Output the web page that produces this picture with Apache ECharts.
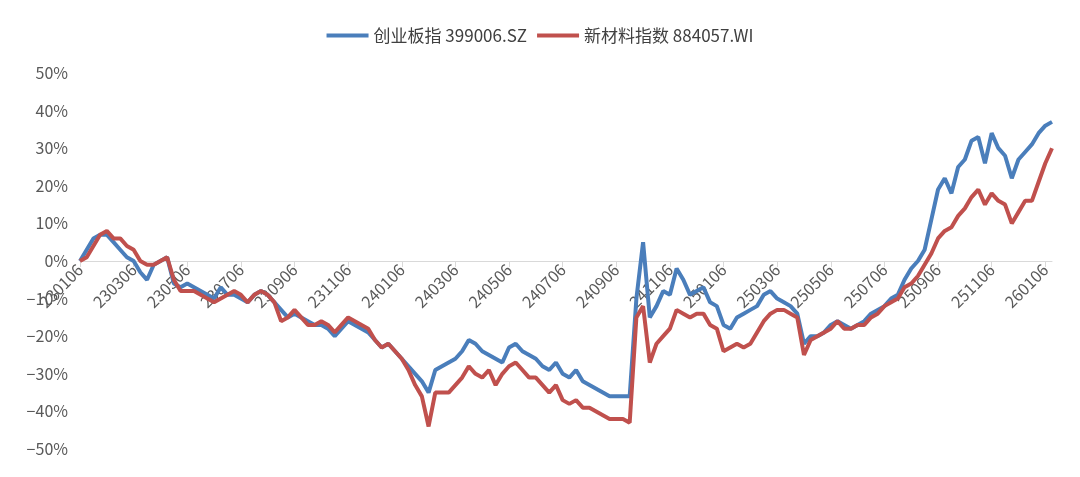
<!DOCTYPE html>
<html lang="zh">
<head>
  <meta charset="UTF-8">
  <title>创业板指 vs 新材料指数</title>
  <script src="https://cdn.jsdelivr.net/npm/echarts@6/dist/echarts.min.js"></script>
  <style>body{margin:0;background:#fff}#main{width:1080px;height:477px}</style>
</head>
<body>
  <div id="main"></div>
  <script type="text/javascript">
    // 周度数据，每月4个点（06/13/21/28）
    var months = ['2301','2302','2303','2304','2305','2306','2307','2308','2309','2310','2311','2312',
      '2401','2402','2403','2404','2405','2406','2407','2408','2409','2410','2411','2412',
      '2501','2502','2503','2504','2505','2506','2507','2508','2509','2510','2511','2512','2601'];
    var days = ['06', '13', '21', '28'];
    var tickLabels = ['230106','230306','230506','230706','230906','231106','240106','240306','240506',
      '240706','240906','241106','250106','250306','250506','250706','250906','251106','260106'];

    var cyb = [0,3,6,7, 7,5,3,1, 0,-3,-5,-1, 0,1,-6,-7, -6,-7,-8,-9, -10,-7,-9,-9,
      -10,-11,-9,-8, -9,-11,-13,-15, -14,-15,-16,-17, -17,-18,-20,-18, -16,-17,-18,-19,
      -21,-23,-22,-24, -26,-28,-30,-32, -35,-29,-28,-27, -26,-24,-21,-22, -24,-25,-26,-27,
      -23,-22,-24,-25, -26,-28,-29,-27, -30,-31,-29,-32, -33,-34,-35,-36, -36,-36,-36,-10,
      5,-15,-12,-8, -9,-2,-5,-9, -8,-7,-11,-12, -17,-18,-15,-14, -13,-12,-9,-8,
      -10,-11,-12,-14, -22,-20,-20,-19, -17,-16,-17,-18, -17,-16,-14,-13, -12,-10,-9,-5,
      -2,0,3,11, 19,22,18,25, 27,32,33,26, 34,30,28,22, 27,29,31,34, 36,37];
    var xcl = [0,1,4,7, 8,6,6,4, 3,0,-1,-1, 0,1,-5,-8, -8,-8,-9,-10, -11,-10,-9,-8,
      -9,-11,-9,-8, -9,-11,-16,-15, -13,-15,-17,-17, -16,-17,-19,-17, -15,-16,-17,-18,
      -21,-23,-22,-24, -26,-29,-33,-36, -44,-35,-35,-35, -33,-31,-28,-30, -31,-29,-33,-30,
      -28,-27,-29,-31, -31,-33,-35,-33, -37,-38,-37,-39, -39,-40,-41,-42, -42,-42,-43,-15,
      -12,-27,-22,-20, -18,-13,-14,-15, -14,-14,-17,-18, -24,-23,-22,-23, -22,-19,-16,-14,
      -13,-13,-14,-15, -25,-21,-20,-19, -18,-16,-18,-18, -17,-17,-15,-14, -12,-11,-10,-7,
      -6,-4,-1,2, 6,8,9,12, 14,17,19,15, 18,16,15,10, 13,16,16,21, 26,30];

    var categories = [];
    months.forEach(function (m) {
      days.forEach(function (d) { categories.push(m + d); });
    });
    categories = categories.slice(0, cyb.length);

    var myChart = echarts.init(document.getElementById('main'));
    var font = '"Noto Sans CJK SC", sans-serif';

    var option = {
      animation: false,
      color: ['#4a7ebb', '#c0504d'],
      legend: {
        top: 22,
        itemWidth: 42,
        itemHeight: 4,
        itemGap: 10,
        icon: 'rect',
        textStyle: { fontSize: 17, color: '#404040', fontFamily: font },
        data: ['创业板指 399006.SZ', '新材料指数 884057.WI']
      },
      grid: { left: 80, right: 28, top: 73, bottom: 28 },
      xAxis: {
        type: 'category',
        boundaryGap: false,
        data: categories,
        // 把轴线和标签挪到 0% 的位置
        offset: -188,
        axisLine: { onZero: false, lineStyle: { color: '#d9d9d9' } },
        axisTick: {
          show: true,
          interval: function (i, v) { return tickLabels.indexOf(v) >= 0; },
          length: 6,
          lineStyle: { color: '#d9d9d9' }
        },
        axisLabel: {
          interval: function (i, v) { return tickLabels.indexOf(v) >= 0; },
          rotate: 45,
          fontSize: 16,
          color: '#595959',
          fontFamily: font,
          margin: 6
        },
        splitLine: { show: false }
      },
      yAxis: {
        type: 'value',
        min: -50,
        max: 50,
        interval: 10,
        axisLine: { show: false },
        axisTick: { show: false },
        splitLine: { show: false },
        axisLabel: {
          fontSize: 16,
          color: '#595959',
          fontFamily: font,
          margin: 12,
          formatter: function (v) { return (v < 0 ? '−' + (-v) : v) + '%'; }
        }
      },
      series: [{
        name: '创业板指 399006.SZ',
        type: 'line',
        data: cyb,
        showSymbol: false,
        lineStyle: { width: 4 }
      }, {
        name: '新材料指数 884057.WI',
        type: 'line',
        data: xcl,
        showSymbol: false,
        lineStyle: { width: 4 }
      }]
    };

    myChart.setOption(option);
  </script>
</body>
</html>
